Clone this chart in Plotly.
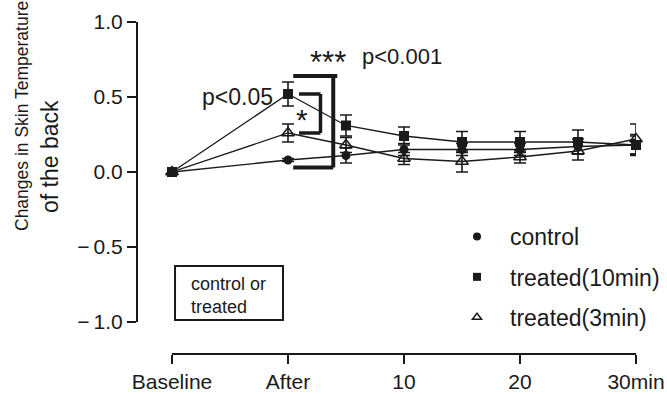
import plotly.graph_objects as go

# ---- data ----
x_pos = [0, 1, 1.5, 2, 2.5, 3, 3.5, 4]
tick_vals = [0, 1, 2, 3, 4]
tick_text = ["Baseline", "After", "10", "20", "30min"]

control = [0, 0.08, 0.11, 0.15, 0.15, 0.15, 0.17, 0.18]
control_err = [0, 0.01, 0.05, 0.04, 0.04, 0.04, 0.05, 0.07]

treated10 = [0, 0.52, 0.31, 0.24, 0.20, 0.20, 0.20, 0.18]
treated10_err = [0, 0.08, 0.07, 0.06, 0.07, 0.07, 0.08, 0.06]

treated3 = [0, 0.26, 0.18, 0.09, 0.07, 0.10, 0.14, 0.22]
treated3_err = [0, 0.06, 0.05, 0.04, 0.07, 0.04, 0.06, 0.10]

y_ticks = [-1.0, -0.5, 0.0, 0.5, 1.0]
y_tick_text = ["\u2212\u20091.0", "\u2212\u20090.5", "0.0", "0.5", "1.0"]

FONT = "Liberation Sans, Arial, sans-serif"
INK = "#1a1a1a"

fig = go.Figure()

series = {
    "control": (control, control_err, dict(symbol="circle", size=9, color=INK)),
    "treated(10min)": (treated10, treated10_err, dict(symbol="square", size=10, color=INK)),
    "treated(3min)": (treated3, treated3_err,
                      dict(symbol="triangle-up-open", size=11, color=INK, line=dict(width=1.5, color=INK))),
}

# draw order: triangles first, squares on top
for name in ["treated(3min)", "control", "treated(10min)"]:
    vals, errs, mk = series[name]
    fig.add_trace(go.Scatter(
        x=x_pos, y=vals, mode="lines+markers", name=name, showlegend=False,
        line=dict(color=INK, width=1.3),
        marker=mk,
        error_y=dict(type="data", array=errs, visible=True, color=INK, thickness=1.6, width=6),
        cliponaxis=False,
    ))

# legend-only entries (markers only)
for i, name in enumerate(["control", "treated(10min)", "treated(3min)"]):
    vals, errs, mk = series[name]
    lmk = dict(mk)
    lmk["size"] = 8
    fig.add_trace(go.Scatter(
        x=[None], y=[None], mode="markers", name=name, marker=lmk,
        legendgroup=f"g{i}", showlegend=True,
    ))

# significance brackets derived from the "After" values
ia = 1
inner_top = treated10[ia]
inner_bot = treated3[ia]
outer_top = treated10[ia] + treated10_err[ia] + 0.04
outer_bot = control[ia] - 0.05

ls_in = dict(color=INK, width=3.5)
ls_out = dict(color=INK, width=4)
shapes = [
    dict(type="line", xref="x", yref="y", x0=1.095, x1=1.28, y0=inner_top, y1=inner_top, line=ls_in),
    dict(type="line", xref="x", yref="y", x0=1.095, x1=1.28, y0=inner_bot, y1=inner_bot, line=ls_in),
    dict(type="line", xref="x", yref="y", x0=1.28, x1=1.28, y0=inner_bot, y1=inner_top, line=ls_in),
    dict(type="line", xref="x", yref="y", x0=1.045, x1=1.425, y0=outer_top, y1=outer_top, line=ls_out),
    dict(type="line", xref="x", yref="y", x0=1.045, x1=1.39, y0=outer_bot, y1=outer_bot, line=ls_out),
    dict(type="line", xref="x", yref="y", x0=1.39, x1=1.39, y0=outer_bot, y1=outer_top, line=ls_out),
    # "control or treated" box
    dict(type="rect", xref="x", yref="y", x0=0.026, x1=0.957, y0=-0.987, y1=-0.627,
         line=dict(color=INK, width=2), fillcolor="rgba(0,0,0,0)"),
]

annotations = [
    dict(text="p<0.05", x=0.565, y=0.50, xref="x", yref="y", showarrow=False,
         xanchor="center", yanchor="middle", font=dict(size=23, color=INK, family=FONT)),
    dict(text="*", x=1.12, y=0.353, xref="x", yref="y", showarrow=False,
         xanchor="center", yanchor="middle", font=dict(size=30, color=INK, family=FONT)),
    dict(text="***", x=1.345, y=0.733, xref="x", yref="y", showarrow=False,
         xanchor="center", yanchor="middle", font=dict(size=31, color=INK, family=FONT)),
    dict(text="p<0.001", x=1.983, y=0.767, xref="x", yref="y", showarrow=False,
         xanchor="center", yanchor="middle", font=dict(size=22, color=INK, family=FONT)),
    dict(text="control or<br>treated", x=0.147, y=-0.82, xref="x", yref="y", showarrow=False,
         xanchor="left", yanchor="middle", align="left",
         font=dict(size=18, color=INK, family=FONT)),
    # y-axis title, two lines
    dict(text="Changes in Skin Temperature", x=(22 - 137) / 499, y=(354 - 116) / 332,
         xref="paper", yref="paper", showarrow=False, textangle=-90,
         xanchor="center", yanchor="middle", font=dict(size=17.5, color=INK, family=FONT)),
    dict(text="of the back", x=(50 - 137) / 499, y=(354 - 157) / 332,
         xref="paper", yref="paper", showarrow=False, textangle=-90,
         xanchor="center", yanchor="middle", font=dict(size=23, color=INK, family=FONT)),
]

fig.update_layout(
    width=667, height=394,
    margin=dict(l=137, r=31, t=22, b=40, pad=0, autoexpand=False),
    paper_bgcolor="white", plot_bgcolor="white",
    font=dict(family=FONT, color=INK, size=21),
    shapes=shapes, annotations=annotations,
    legend=dict(x=(444 - 137) / 499, y=(354 - 215) / 332, xanchor="left", yanchor="top",
                font=dict(size=23, color=INK, family=FONT), itemwidth=56,
                tracegroupgap=7.5, traceorder="grouped", bgcolor="rgba(0,0,0,0)"),
    xaxis=dict(domain=[35 / 499, 1], range=[0, 4], anchor="free", position=0,
               tickvals=tick_vals, ticktext=tick_text, showline=True, linecolor=INK, linewidth=2,
               ticks="outside", ticklen=9, tickwidth=2, tickcolor=INK, showgrid=False, zeroline=False,
               ticklabelstandoff=0,
               tickfont=dict(size=21, color=INK, family=FONT)),
    yaxis=dict(domain=[32 / 332, 1], range=[-1, 1], anchor="free", position=0,
               tickvals=y_ticks, ticktext=y_tick_text, showline=True, linecolor=INK, linewidth=2,
               ticks="outside", ticklen=9, tickwidth=2, tickcolor=INK, showgrid=False, zeroline=False,
               tickfont=dict(size=21, color=INK, family=FONT)),
)

fig.write_html("out.html")
